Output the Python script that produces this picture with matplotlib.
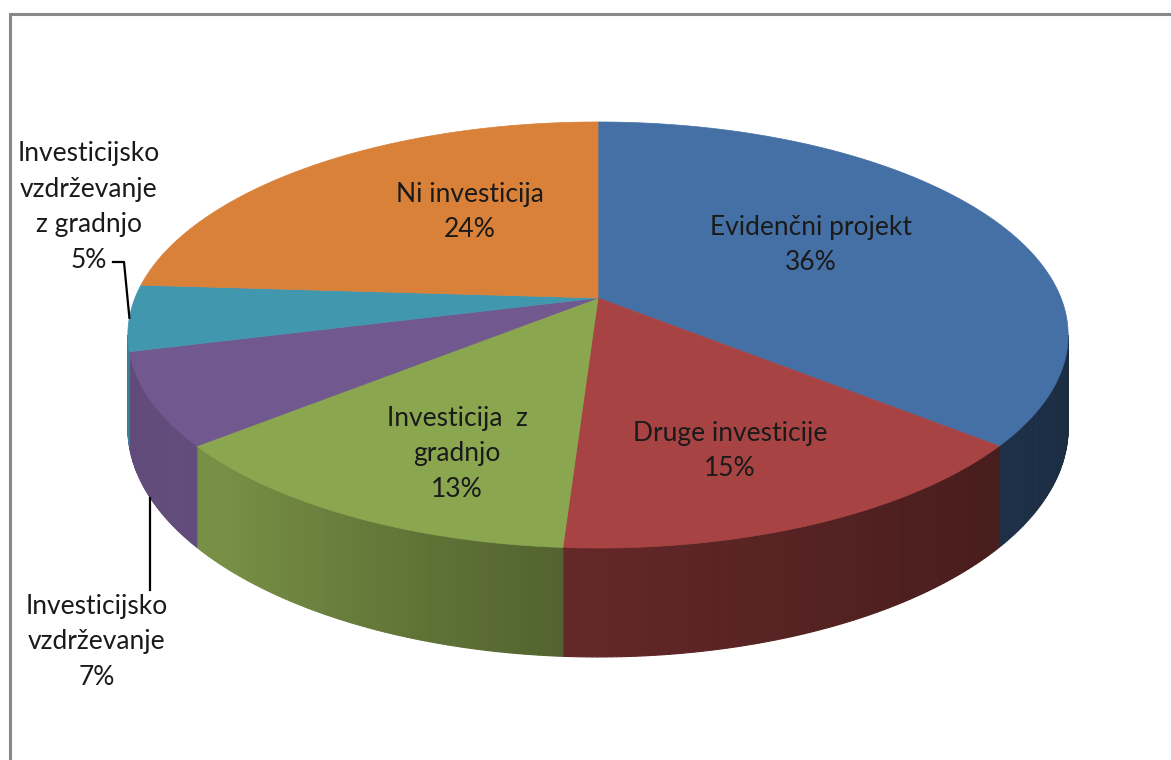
import numpy as np
import matplotlib.pyplot as plt
from matplotlib.patches import Polygon
from matplotlib.colors import to_rgb

plt.rcParams['font.family'] = ['Lato', 'DejaVu Sans']

# data
labels = ['Evidenčni projekt', 'Druge investicije', 'Investicija  z\ngradnjo',
          'Investicijsko\nvzdrževanje', 'Investicijsko\nvzdrževanje\nz gradnjo', 'Ni investicija']
shares = [36, 15, 13, 7, 5, 24]
colors = ['#4570a6', '#a84343', '#8aa64f', '#71588f', '#4197ae', '#d98139']

# label centres in pixels
label_xy = [(811, 245), (730, 451), (457, 454), (97, 642), (89, 207), (470, 212)]

# pie geometry (pixel space, perspective tilted disc)
cx, cy = 598, 298
a, b, k = 463, 206.6, 0.1737
depth = 90

def proj(t, r=1.0, z=0.0):
    X = r * np.cos(t)
    Y = r * np.sin(t)
    w = 1 + k * Y
    return cx + a * X / w, cy - b * Y / w + z / w

def shade(tdeg):
    t = np.mod(tdeg, 360)
    return np.interp(t, [180, 190, 225, 266, 300, 320, 350, 360],
                     [0.85, 0.85, 0.87, 0.60, 0.48, 0.43, 0.40, 0.40])

fig = plt.figure(figsize=(11.71, 7.6), dpi=100)
ax = fig.add_axes([0, 0, 1, 1])
ax.set_xlim(0, 1171)
ax.set_ylim(760, 0)
ax.axis('off')

edges = 90 - 360 * np.concatenate([[0], np.cumsum(shares)]) / 100.0
sil = np.degrees(np.arcsin(k))  # silhouette angle offset

# sides
for i, col in enumerate(colors):
    hi, lo = edges[i], edges[i + 1]
    lo_v, hi_v = max(lo, -180 + sil), min(hi, -sil)
    if lo_v >= hi_v:
        continue
    n = max(2, int((hi_v - lo_v) / 0.5))
    ts = np.linspace(lo_v, hi_v, n + 1)
    base = np.array(to_rgb(col))
    for t0, t1 in zip(ts[:-1], ts[1:]):
        tt = np.radians([t0, t1])
        x0, y0 = proj(tt[0]); x1, y1 = proj(tt[1])
        x2, y2 = proj(tt[1], z=depth); x3, y3 = proj(tt[0], z=depth)
        c = np.clip(base * shade((t0 + t1) / 2), 0, 1)
        ax.add_patch(Polygon([(x0, y0), (x1, y1), (x2, y2), (x3, y3)],
                             closed=True, fc=c, ec=c, lw=0.8, zorder=1))

# top faces
for i, col in enumerate(colors):
    ts = np.radians(np.linspace(edges[i], edges[i + 1], 200))
    xs, ys = proj(ts)
    pts = [(cx, cy)] + list(zip(xs, ys))
    ax.add_patch(Polygon(pts, closed=True, fc=col, ec=col, lw=0.5, zorder=2))

# labels
txt_kw = dict(ha='center', va='center', fontsize=19, color='#1a1a1a',
              linespacing=1.52, zorder=5)
for i, lab in enumerate(labels):
    ax.text(label_xy[i][0], label_xy[i][1], '%s\n%d%%' % (lab, shares[i]), **txt_kw)

# leader lines for the two small slices
mid4 = np.radians((edges[4] + edges[5]) / 2)
x4, y4 = proj(mid4)
ax.plot([113, 124, x4], [262, 262, y4], color='black', lw=1.6, zorder=4)
mid3 = np.radians((edges[3] + edges[4]) / 2)
x3, y3 = proj(mid3, z=depth)
ax.plot([x3, x3], [y3, 590], color='black', lw=1.6, zorder=4)

# chart frame
ax.plot([10, 10, 1171], [760, 14, 14], color='#888888', lw=2.2, zorder=6,
        solid_joinstyle='miter')

fig.savefig('out.png', dpi=100)
